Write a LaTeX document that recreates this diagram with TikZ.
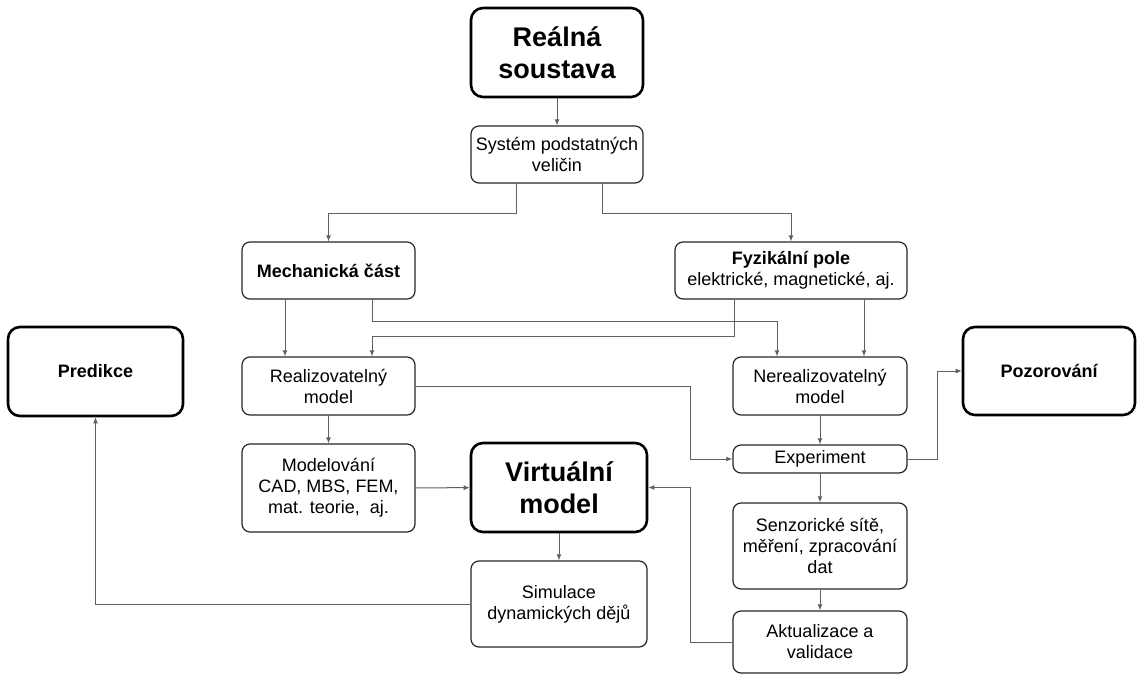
\documentclass[tikz,border=0pt]{standalone}
\usepackage{fontspec}
\setmainfont{Liberation Sans}
\usetikzlibrary{arrows.meta}
\begin{document}
\begin{tikzpicture}[x=1pt,y=-1pt,
  box/.style={draw=black!85, line width=1.2pt, rounded corners=8pt, fill=white,
    align=center, inner sep=0pt, font=\fontsize{18}{21}\selectfont},
  bigbox/.style={box, draw=black, line width=2.6pt, rounded corners=12pt},
  bigtext/.style={font=\fontsize{27}{32}\selectfont\bfseries},
  conn/.style={draw=black!62, line width=1pt, -{Latex[length=6pt,width=5pt]}}]
\useasboundingbox[fill=white] (0,0) rectangle (1138,675);

% boxes
\node[bigbox, bigtext, minimum width=172pt, minimum height=89pt] (real) at (557,52.5) {Reálná\\soustava};
\node[box, minimum width=172pt, minimum height=57pt] (sys) at (557,154.5) {Systém podstatných\\veličin};
\node[box, minimum width=173pt, minimum height=57pt] (mech) at (328.5,270.5) {\bfseries Mechanická část};
\node[box, minimum width=232pt, minimum height=57pt] (fyz) at (791,270.5) {{\bfseries Fyzikální pole}\\elektrické, magnetické, aj.};
\node[box, minimum width=173pt, minimum height=58pt] (rea) at (328.5,386) {Realizovatelný\\model};
\node[box, minimum width=174pt, minimum height=58pt] (nerea) at (820,386) {Nerealizovatelný\\model};
\node[bigbox, minimum width=175pt, minimum height=89pt] (pred) at (95.5,371.5) {\bfseries Predikce};
\node[bigbox, minimum width=172pt, minimum height=88pt] (poz) at (1049,371) {\bfseries Pozorování};
\node[box, minimum width=173pt, minimum height=88pt] (model) at (328.5,488) {Modelování\\CAD, MBS, FEM,\\mat. teorie, \ aj.};
\node[bigbox, bigtext, minimum width=176pt, minimum height=89pt] (virt) at (559,487.5) {Virtuální\\model};
\node[box, minimum width=174pt, minimum height=28pt] (exp) at (820,459) {Experiment};
\node[box, minimum width=176pt, minimum height=86pt] (sim) at (559,604) {Simulace\\dynamických dějů};
\node[box, minimum width=174pt, minimum height=86pt] (sens) at (820,546) {Senzorické sítě,\\měření, zpracování\\dat};
\node[box, minimum width=174pt, minimum height=62pt] (akt) at (820,642) {Aktualizace a\\validace};

% bend points of the connectors
\coordinate (b1) at (516,213);
\coordinate (b2) at (602,213);
\coordinate (c1) at (285,0);
\coordinate (b3) at (372,321);
\coordinate (b4) at (777,321);
\coordinate (b5) at (734,336);
\coordinate (b6) at (372,336);
\coordinate (c2) at (864,0);
\coordinate (b7) at (690,459);
\coordinate (b8) at (937,371);
\coordinate (b9) at (690,487.5);

% connectors
\draw[conn] (real) -- (sys);
\draw[conn] (sys.south -| b1) -- (b1) -| (mech.north);
\draw[conn] (sys.south -| b2) -- (b2) -| (fyz.north);
\draw[conn] (mech.south -| c1) -- (rea.north -| c1);
\draw[conn] (mech.south -| b3) -- (b3) -- (b4) -- (nerea.north -| b4);
\draw[conn] (fyz.south -| b5) -- (b5) -- (b6) -- (rea.north -| b6);
\draw[conn] (fyz.south -| c2) -- (nerea.north -| c2);
\draw[conn] (rea) -- (model);
\draw[conn] (rea.east) -| (b7) -- (exp.west);
\draw[conn] (nerea) -- (exp);
\draw[conn] (exp.east) -| (b8) -- (poz.west);
\draw[conn] (exp) -- (sens);
\draw[conn] (sens) -- (akt);
\draw[conn] (akt.west) -| (b9) -- (virt.east);
\draw[conn] (model) -- (virt);
\draw[conn] (virt) -- (sim);
\draw[conn] (sim.west) -| (pred.south);
\end{tikzpicture}
\end{document}
